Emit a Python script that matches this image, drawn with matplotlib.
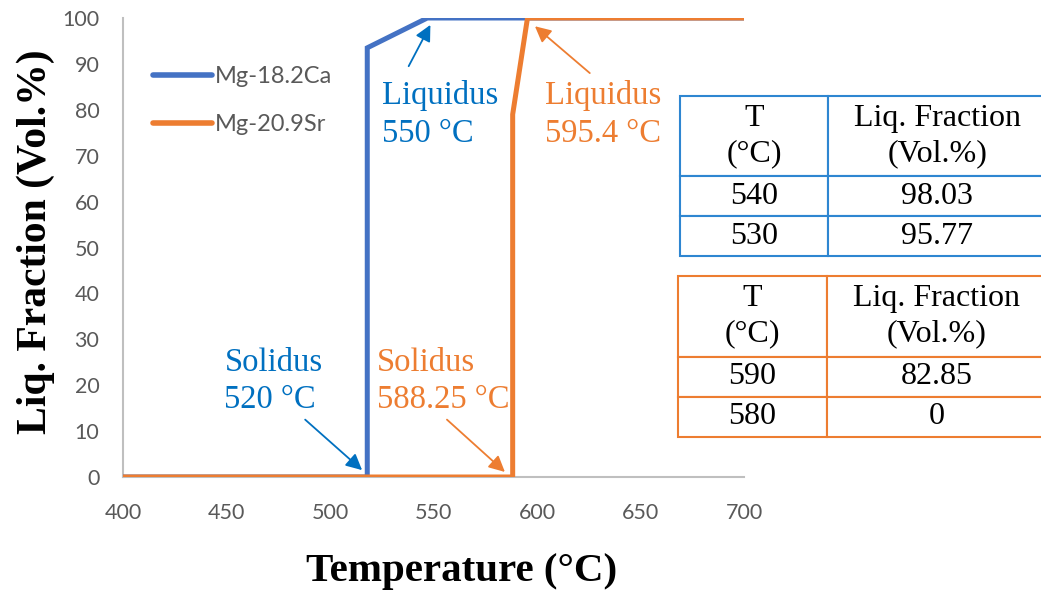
import matplotlib.pyplot as plt
import numpy as np

# curve data
ca_T = [400, 518, 518, 547, 700]
ca_F = [0, 0, 93.5, 100, 100]
sr_T = [400, 588.25, 588.25, 595.4, 700]
sr_F = [0, 0, 79, 100, 100]

ca_name = "Mg-18.2Ca"
sr_name = "Mg-20.9Sr"

ca_table = [["T\n(°C)", "Liq. Fraction\n(Vol.%)"], ["540", "98.03"], ["530", "95.77"]]
sr_table = [["T\n(°C)", "Liq. Fraction\n(Vol.%)"], ["590", "82.85"], ["580", "0"]]

blue = "#4472C4"
orange = "#ED7D31"
tblue = "#0070C0"
serif = "Liberation Serif"
sans = "Lato"

fig = plt.figure(figsize=(10.41, 5.95), dpi=100)
ax = fig.add_axes([123/1041, 1-477/595, (744-123)/1041, (477-18)/595])

ax.plot(ca_T, ca_F, color=blue, lw=3.6, label=ca_name, solid_joinstyle="miter")
ax.plot(sr_T, sr_F, color=orange, lw=3.6, label=sr_name, solid_joinstyle="miter")

ax.set_xlim(400, 700)
ax.set_ylim(0, 100)
ax.set_xticks(np.arange(400, 701, 50))
ax.set_yticks(np.arange(0, 101, 10))
ax.tick_params(length=0, labelsize=15.5, labelcolor="#595959")
ax.tick_params(axis="y", pad=17)
ax.tick_params(axis="x", pad=19)
for t in ax.get_xticklabels() + ax.get_yticklabels():
    t.set_fontfamily(sans)
for s in ["top", "right"]:
    ax.spines[s].set_visible(False)
for s in ["left", "bottom"]:
    ax.spines[s].set_color("#BFBFBF")
    ax.spines[s].set_linewidth(1.5)
ax.spines["left"].set_zorder(0)
ax.spines["bottom"].set_zorder(0)

fig.text(462/1041, 1-572/595, "Temperature (°C)", ha="center", va="center",
         fontsize=29.5, fontweight="bold", family=serif)
fig.text(36/1041, 1-242/595, "Liq. Fraction (Vol.%)", ha="center", va="center",
         rotation=90, fontsize=30, fontweight="bold", family=serif)

leg = ax.legend(loc="upper left", bbox_to_anchor=(132/1041, 1-45/595),
                bbox_transform=fig.transFigure, frameon=False, handlelength=2.5,
                handletextpad=0.12, labelspacing=1.15, prop={"family": sans, "size": 17})
for t in leg.get_texts():
    t.set_color("#595959")
for l in leg.get_lines():
    l.set_solid_capstyle("round")
    l.set_linewidth(4)

# annotations
def note(txt, tx, ty, tail, head, col):
    ax.text(tx, ty, txt, ha="left", va="top", color=col, fontsize=23.5,
            family=serif, linespacing=1.3)
    ax.annotate("", xy=head, xytext=tail,
                arrowprops=dict(arrowstyle="-|>", color=col, lw=1.3, mutation_scale=24,
                                shrinkA=0, shrinkB=0))

note("Liquidus\n550 °C", 525, 86.5, (538, 89.5), (548.5, 98.5), tblue)
note("Liquidus\n595.4 °C", 604, 86.5, (625.5, 88), (599, 98.2), orange)
note("Solidus\n520 °C", 449, 28.3, (488, 12.5), (515.5, 1.5), tblue)
note("Solidus\n588.25 °C", 522.5, 28.3, (556.5, 12.5), (584.5, 1.1), orange)

# tables
def draw_table(rows, box, col):
    tax = fig.add_axes(box)
    tax.axis("off")
    tb = tax.table(cellText=rows, colWidths=[147, 216], cellLoc="center", bbox=[0, 0, 1, 1])
    tb.auto_set_font_size(False)
    for (r, c), cell in tb.get_celld().items():
        cell.set_edgecolor(col)
        cell.set_linewidth(1.5)
        cell.set_height(2.0 if r == 0 else 1.0)
        cell.get_text().set_fontsize(23)
        cell.get_text().set_fontfamily(serif)
        cell.get_text().set_linespacing(1.3)

draw_table(ca_table, [680/1041, 1-256/595, 366/1041, 160/595], "#2E86D1")
draw_table(sr_table, [678/1041, 1-437/595, 368/1041, 161/595], orange)

fig.savefig("out.png", dpi=100)
